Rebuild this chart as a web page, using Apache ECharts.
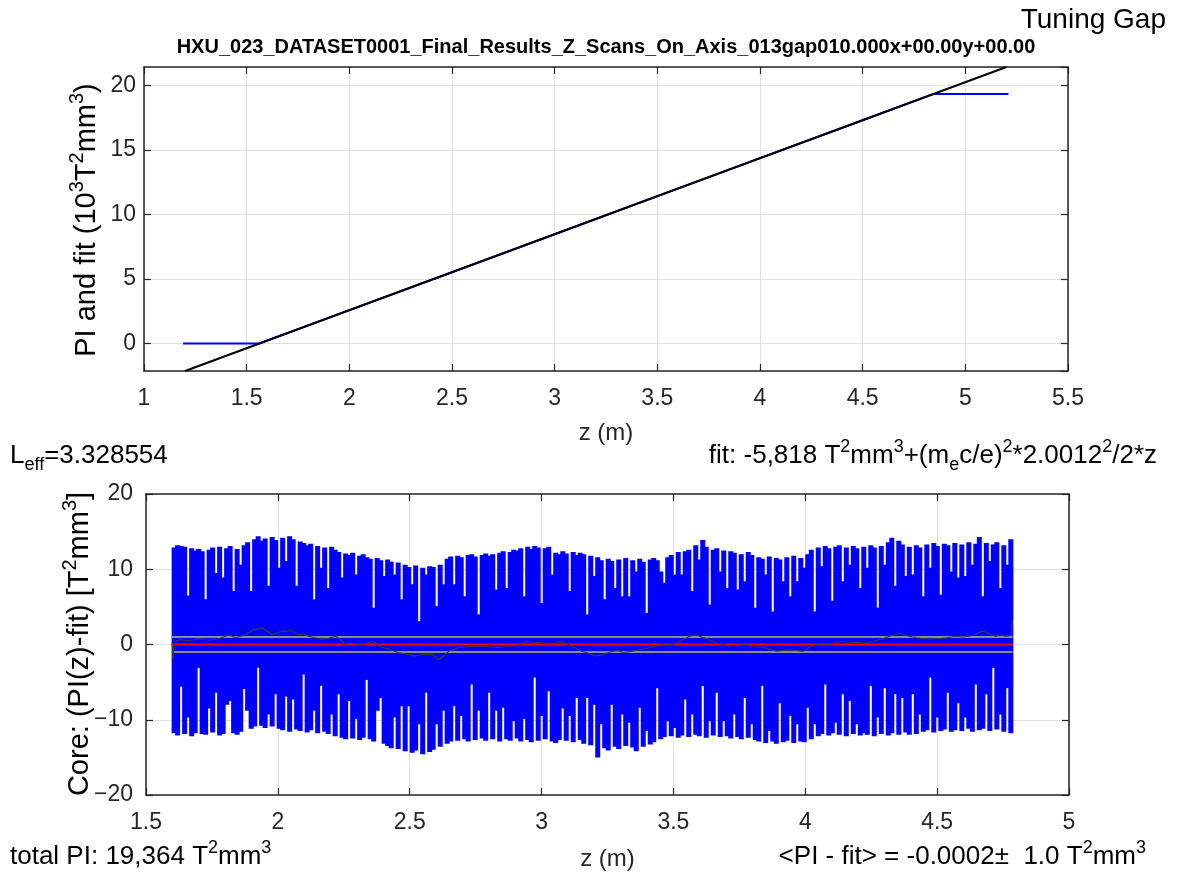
<!DOCTYPE html>
<html>
<head>
<meta charset="utf-8">
<script src="https://cdn.jsdelivr.net/npm/echarts@6/dist/echarts.min.js"></script>
<style>
html,body{margin:0;padding:0;background:#fff;}
#chart{width:1181px;height:877px;}
</style>
</head>
<body>
<div id="chart"></div>
<script>
// ---------- DATA ----------
// Top panel: field integral PI (10^3 T^2 mm^3) and its linear fit
const topZ  = [1.19, 1.532, 1.561, 2.0, 2.5, 3.0, 3.5, 4.0, 4.5, 4.846, 5.21];
const topPI = [0, 0, 0, 2.59, 5.53, 8.48, 11.43, 14.38, 17.32, 19.364, 19.364];
const fitZ   = [1.2, 5.2];
const fitVal = [-2.13, 21.45];
const topYMin = -2.13, topYMax = 21.45;

// Bottom panel: residual PI(z)-fit (T^2 mm^3) in 240 consecutive z-bins (max / min per bin)
const sigZStart = 1.6, sigZEnd = 4.786;
const sigUpper = [
12.9,13.2,13.1,13.0,6.5,12.8,12.5,12.7,12.4,6.0,12.6,12.9,9.5,13.0,8.9,12.8,13.1,7.1,12.7,10.6,
13.2,13.6,7.1,14.0,14.4,13.8,14.1,7.8,14.3,13.9,10.2,14.2,11.1,14.4,14.0,7.8,13.7,13.5,13.2,13.4,
6.0,13.1,10.2,12.9,7.5,13.0,12.6,12.3,8.9,12.1,11.9,12.2,9.3,11.8,12.0,11.6,11.4,4.9,11.5,11.2,
9.1,11.3,11.0,9.3,10.9,6.0,10.6,10.3,8.0,10.5,3.1,10.2,9.3,10.4,10.3,5.1,10.6,8.0,11.4,11.7,
8.0,11.8,11.6,6.4,11.9,12.0,11.7,4.0,11.9,12.1,11.8,12.0,7.3,12.2,12.4,7.5,12.3,12.6,12.5,12.8,
6.4,13.0,12.7,13.1,12.9,5.5,12.8,13.0,9.3,12.2,12.0,12.4,12.1,7.1,12.3,11.9,12.2,12.0,4.0,11.8,
9.1,11.6,11.2,6.0,11.4,11.1,7.5,11.3,6.4,11.5,6.4,11.2,9.7,11.4,11.0,4.2,11.3,11.5,11.2,9.7,
8.2,11.6,11.9,9.3,12.3,9.3,12.4,12.6,7.1,13.2,11.3,13.9,13.0,5.3,12.6,12.8,9.7,12.5,7.5,12.4,
12.2,7.3,12.0,8.4,12.3,11.9,4.9,11.6,11.4,9.3,11.7,4.4,11.5,11.3,8.4,11.6,6.4,11.8,8.4,11.5,
10.2,12.0,12.6,4.4,12.9,10.4,13.1,12.8,5.8,13.0,13.2,8.4,12.9,10.6,13.1,12.8,7.5,13.0,10.2,13.2,
12.9,4.9,13.1,10.6,13.6,14.2,7.8,13.8,13.3,9.1,13.0,9.3,13.2,12.9,6.4,13.3,10.2,13.5,13.1,6.6,
13.4,13.2,9.7,13.5,8.9,13.3,9.1,13.6,10.6,13.4,14.3,6.4,13.5,11.1,13.3,13.6,7.5,13.2,10.6,14.0
];
const sigLower = [
-11.8,-12.1,-5.6,-11.9,-9.7,-12.2,-11.8,-3.1,-11.9,-12.0,-8.5,-11.7,-6.4,-12.1,-11.9,-8.0,-7.5,-11.8,-12.0,-11.6,
-5.9,-8.8,-11.2,-10.9,-3.1,-10.8,-11.1,-9.3,-10.9,-6.6,-11.2,-11.4,-6.9,-11.6,-7.3,-11.3,-11.5,-4.0,-11.7,-11.4,
-8.8,-11.8,-5.5,-11.6,-11.9,-9.3,-12.2,-6.6,-12.4,-12.6,-7.5,-12.5,-9.9,-12.7,-12.4,-4.7,-12.6,-12.9,-8.8,-7.1,
-13.2,-13.5,-13.8,-9.7,-13.9,-8.2,-14.2,-8.2,-14.4,-14.1,-10.6,-14.6,-6.4,-14.3,-14.0,-10.6,-13.6,-8.8,-13.2,-12.9,
-8.2,-12.8,-9.5,-12.6,-12.9,-5.3,-12.7,-8.8,-12.5,-12.8,-6.4,-12.6,-8.8,-12.9,-8.4,-12.6,-12.8,-10.2,-12.5,-12.9,
-9.9,-12.7,-13.0,-4.4,-12.8,-9.5,-12.6,-6.2,-12.9,-13.1,-12.7,-8.5,-12.8,-9.5,-13.0,-7.1,-12.7,-13.2,-7.1,-13.4,
-8.0,-15.0,-10.6,-13.8,-14.1,-8.0,-13.6,-13.9,-9.3,-13.5,-10.4,-13.7,-14.2,-8.4,-13.6,-11.5,-13.3,-13.0,-5.8,-12.6,
-12.3,-10.2,-12.2,-11.1,-12.4,-12.1,-7.3,-12.3,-9.3,-12.0,-12.2,-5.5,-12.4,-10.2,-12.1,-6.4,-12.3,-10.2,-12.2,-12.5,
-9.3,-12.3,-12.6,-7.1,-12.4,-10.6,-12.7,-12.9,-5.5,-13.1,-11.5,-12.9,-13.2,-7.8,-13.0,-12.8,-9.5,-13.1,-10.6,-12.9,
-13.0,-8.4,-12.6,-10.6,-12.2,-11.9,-5.3,-12.1,-11.8,-10.4,-12.0,-6.6,-12.2,-7.5,-11.9,-10.6,-12.1,-11.8,-12.0,-5.5,
-12.2,-9.7,-11.9,-5.8,-12.1,-11.8,-6.6,-12.0,-7.1,-11.7,-12.0,-6.6,-11.9,-9.3,-11.6,-11.4,-4.4,-11.7,-9.7,-11.5,
-11.3,-6.4,-11.6,-11.4,-7.8,-11.5,-9.7,-11.2,-11.6,-5.3,-11.4,-11.2,-6.6,-11.5,-3.1,-11.3,-9.3,-11.6,-5.8,-11.8
];
// running mean of the residual (dark trace): [z, value]
const devPoints = [
[1.600,0.0],[1.602,-2.0],[1.607,0.3],[1.63,0.65],[1.66,0.5],[1.70,0.75],[1.74,0.6],[1.78,0.8],[1.815,1.3],[1.84,0.9],
[1.878,1.3],[1.904,1.9],[1.925,2.1],[1.941,2.2],[1.96,1.8],[1.979,1.3],[2.00,1.6],[2.017,1.8],[2.035,1.7],[2.049,1.9],
[2.065,1.5],[2.08,1.3],[2.10,1.4],[2.118,1.1],[2.14,0.9],[2.169,0.7],[2.19,0.8],[2.219,1.1],[2.24,0.6],[2.257,0.0],
[2.28,0.2],[2.307,0.0],[2.33,0.1],[2.358,0.4],[2.38,0.0],[2.396,-0.4],[2.42,-0.6],[2.458,-1.1],[2.49,-1.3],[2.522,-1.5],
[2.55,-1.3],[2.585,-1.3],[2.61,-2.0],[2.63,-1.5],[2.648,-0.9],[2.685,-0.4],[2.72,-0.3],[2.774,-0.2],[2.80,-0.3],[2.837,-0.4],
[2.87,-0.2],[2.90,-0.2],[2.938,0.4],[2.97,0.3],[3.013,0.2],[3.04,0.1],[3.064,0.4],[3.09,0.2],[3.114,-0.2],[3.152,-0.9],
[3.18,-1.2],[3.203,-1.5],[3.23,-1.4],[3.259,-1.0],[3.29,-0.8],[3.31,-1.1],[3.34,-0.9],[3.373,-0.7],[3.40,-0.5],[3.436,-0.2],
[3.47,0.1],[3.499,0.0],[3.53,0.5],[3.562,1.1],[3.587,1.3],[3.605,1.0],[3.625,0.8],[3.663,0.2],[3.69,0.0],[3.713,-0.2],
[3.745,-0.1],[3.777,0.0],[3.81,-0.3],[3.839,-0.4],[3.865,-0.6],[3.89,-0.9],[3.915,-0.8],[3.94,-0.7],[3.965,-0.8],[3.991,-0.9],
[4.015,-0.4],[4.041,0.0],[4.065,0.1],[4.092,0.0],[4.12,0.3],[4.142,0.4],[4.17,0.2],[4.193,0.3],[4.225,0.2],[4.256,0.4],
[4.29,0.7],[4.319,1.1],[4.357,1.5],[4.394,1.1],[4.42,0.9],[4.445,0.8],[4.475,0.7],[4.508,0.8],[4.54,0.9],[4.571,1.1],
[4.60,1.0],[4.634,1.2],[4.672,1.8],[4.70,1.4],[4.722,1.1],[4.74,1.3],[4.76,1.1],[4.782,1.2],[4.784,3.3]
];
const meanResidual = -0.0002;
const sigmaResidual = 1.0;
const bandZ = [1.597, 4.786];

// ---------- CHART ----------
const FONT = 'Liberation Sans, Arial, Helvetica, sans-serif';
const AX = '#262626';
const GRIDC = '#e0e0e0';
const TICKFS = 23;
const fmtTick = v => String(v).replace('-', '\u2212');
const chart = echarts.init(document.getElementById('chart'), null, {renderer: 'canvas'});

function mainX(grid, min, max, interval, gap) {
  return {
    gridIndex: grid, type: 'value', min, max, interval, position: 'bottom',
    axisLine: {onZero: false, lineStyle: {color: AX, width: 1.5}},
    axisTick: {inside: true, length: 7, lineStyle: {color: AX, width: 1.2}},
    axisLabel: {color: AX, fontSize: TICKFS, fontFamily: FONT, margin: 16, formatter: fmtTick},
    splitLine: {show: true, lineStyle: {color: GRIDC, width: 1}},
    name: 'z (m)', nameLocation: 'middle', nameGap: gap,
    nameTextStyle: {color: AX, fontSize: 24, fontFamily: FONT}
  };
}
function boxX(grid, min, max, interval) {
  return {
    gridIndex: grid, type: 'value', min, max, interval, position: 'top',
    axisLine: {onZero: false, lineStyle: {color: AX, width: 1.5}},
    axisTick: {inside: true, length: 7, lineStyle: {color: AX, width: 1.2}},
    axisLabel: {show: false}, splitLine: {show: false}
  };
}
function mainY(grid, min, max, interval, margin, hideEnds) {
  return {
    gridIndex: grid, type: 'value', min, max, interval, position: 'left',
    axisLine: {show: true, onZero: false, lineStyle: {color: AX, width: 1.5}},
    axisTick: {show: true, inside: true, length: 7, lineStyle: {color: AX, width: 1.2}},
    axisLabel: {color: AX, fontSize: TICKFS, fontFamily: FONT, margin: margin, formatter: fmtTick,
                showMinLabel: !hideEnds, showMaxLabel: !hideEnds},
    splitLine: {show: true, lineStyle: {color: GRIDC, width: 1}}
  };
}
function boxY(grid, min, max, interval) {
  return {
    gridIndex: grid, type: 'value', min, max, interval, position: 'right',
    axisLine: {show: true, onZero: false, lineStyle: {color: AX, width: 1.5}},
    axisTick: {show: true, inside: true, length: 7, lineStyle: {color: AX, width: 1.2}},
    axisLabel: {show: false}, splitLine: {show: false}
  };
}

const binW = (sigZEnd - sigZStart) / sigUpper.length;
const sigData = sigUpper.map((u, i) => [sigZStart + i * binW, sigZStart + (i + 1) * binW, sigLower[i], u]);

function rich(fs, supfs, lh) {
  return {
    n:   {fontSize: fs, fontFamily: FONT, fill: '#000', lineHeight: lh, verticalAlign: 'middle'},
    s:   {fontSize: supfs, fontFamily: FONT, fill: '#000', lineHeight: supfs + 2, verticalAlign: 'top'},
    sub: {fontSize: supfs, fontFamily: FONT, fill: '#000', lineHeight: supfs + 2, verticalAlign: 'bottom'}
  };
}
const RT = rich(26, 18, 36);
const RY = rich(29, 20, 40);

const option = {
  animation: false,
  backgroundColor: '#fff',
  grid: [
    {left: 144, right: 113, top: 67, height: 304},
    {left: 146, right: 112, top: 494, height: 301}
  ],
  xAxis: [mainX(0, 1, 5.5, 0.5, 50), boxX(0, 1, 5.5, 0.5), mainX(1, 1.5, 5, 0.5, 52), boxX(1, 1.5, 5, 0.5)],
  yAxis: [mainY(0, topYMin, topYMax, undefined, 8, true), boxY(0, topYMin, topYMax, undefined),
          mainY(1, -20, 20, 10, 13, false), boxY(1, -20, 20, 10)],
  series: [
    {type: 'line', xAxisIndex: 0, yAxisIndex: 0, data: topZ.map((z, i) => [z, topPI[i]]),
     showSymbol: false, lineStyle: {color: '#0000ff', width: 2}, z: 2},
    {type: 'line', xAxisIndex: 0, yAxisIndex: 0, data: fitZ.map((z, i) => [z, fitVal[i]]),
     showSymbol: false, lineStyle: {color: '#000', width: 2}, z: 3, clip: true},
    {type: 'custom', xAxisIndex: 2, yAxisIndex: 2, data: sigData,
     encode: {x: [0, 1], y: [2, 3]}, z: 2,
     renderItem: function (params, api) {
       const pA = api.coord([api.value(0), api.value(3)]);
       const pB = api.coord([api.value(1), api.value(2)]);
       const ext = 0.75;
       return {type: 'rect', shape: {x: pA[0] - ext, y: pA[1], width: pB[0] - pA[0] + 2 * ext, height: pB[1] - pA[1]},
               style: {fill: '#0000ff'}};
     }},
    {type: 'line', xAxisIndex: 2, yAxisIndex: 2, data: bandZ.map(z => [z, meanResidual + sigmaResidual]),
     showSymbol: false, lineStyle: {color: '#8c8c8c', width: 2}, z: 4},
    {type: 'line', xAxisIndex: 2, yAxisIndex: 2, data: bandZ.map(z => [z, meanResidual - sigmaResidual]),
     showSymbol: false, lineStyle: {color: '#8c8c8c', width: 2}, z: 4},
    {type: 'line', xAxisIndex: 2, yAxisIndex: 2, data: bandZ.map(z => [z, meanResidual]),
     showSymbol: false, lineStyle: {color: '#ff0000', width: 2.2}, z: 5},
    {type: 'line', xAxisIndex: 2, yAxisIndex: 2, data: devPoints,
     showSymbol: false, lineStyle: {color: '#3a3a3a', width: 1.2}, z: 6}
  ],
  graphic: [
    {type: 'text', right: 15, top: 6, style: {text: 'Tuning Gap', fontSize: 28, fontFamily: FONT, fill: '#000'}},
    {type: 'text', x: 606, y: 47, style: {text: 'HXU_023_DATASET0001_Final_Results_Z_Scans_On_Axis_013gap010.000x+00.00y+00.00',
      fontSize: 20, fontWeight: 'bold', fontFamily: FONT, fill: '#000', align: 'center', verticalAlign: 'middle'}},
    {type: 'text', x: 87, y: 220, rotation: Math.PI / 2,
     style: {text: '{n|PI and fit (10}{s|3}{n|T}{s|2}{n|mm}{s|3}{n|)}', rich: RY, align: 'center', verticalAlign: 'middle'}},
    {type: 'text', x: 80, y: 644, rotation: Math.PI / 2,
     style: {text: '{n|Core: (PI(z)-fit) [T}{s|2}{n|mm}{s|3}{n|]}', rich: RY, align: 'center', verticalAlign: 'middle'}},
    {type: 'text', x: 10, y: 456,
     style: {text: '{n|L}{sub|eff}{n|=3.328554}', rich: RT, align: 'left', verticalAlign: 'middle'}},
    {type: 'text', x: 1157, y: 456,
     style: {text: '{n|fit: -5,818 T}{s|2}{n|mm}{s|3}{n|+(m}{sub|e}{n|c/e)}{s|2}{n|*2.0012}{s|2}{n|/2*z}', rich: RT, align: 'right', verticalAlign: 'middle'}},
    {type: 'text', x: 10, y: 857,
     style: {text: '{n|total PI: 19,364 T}{s|2}{n|mm}{s|3}', rich: RT, align: 'left', verticalAlign: 'middle'}},
    {type: 'text', x: 1146, y: 857,
     style: {text: '{n|<PI - fit> = -0.0002±  1.0 T}{s|2}{n|mm}{s|3}', rich: RT, align: 'right', verticalAlign: 'middle'}}
  ]
};
chart.setOption(option);
</script>
</body>
</html>
